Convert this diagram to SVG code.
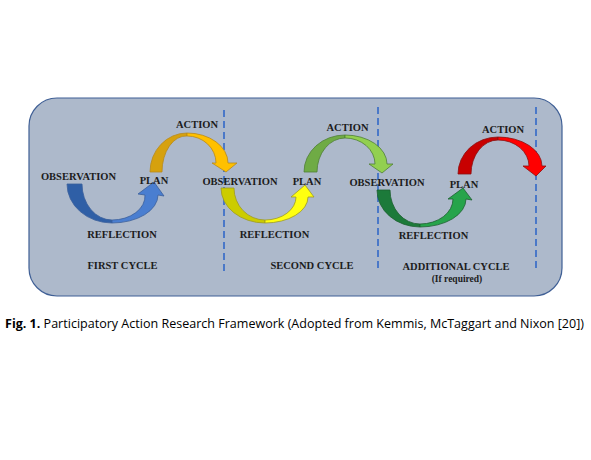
<svg xmlns="http://www.w3.org/2000/svg" width="591" height="460" viewBox="0 0 591 460">
<style>
.lbl{font-family:"Liberation Serif","Times New Roman",serif;font-weight:bold;font-size:10.5px;fill:#1c1c1c;text-anchor:middle}
.small{font-size:9.5px}
.dash{stroke:#4a78c8;stroke-width:2;stroke-dasharray:7 4;fill:none}
.edge{stroke-width:0.8;stroke-linejoin:round}
</style>
<rect width="591" height="460" fill="#ffffff"/>
<g id="frame">
<rect x="29" y="98" width="533" height="198" rx="28" ry="28" fill="#adb9cb" stroke="#3f5f95" stroke-width="1.2"/>
</g>
<g id="dividers">
<line class="dash" x1="224" y1="110" x2="224" y2="272"/>
<line class="dash" x1="378" y1="107" x2="378" y2="272"/>
<line class="dash" x1="536" y1="107" x2="536" y2="272"/>
</g>
<g id="connectors">
<!-- cycle 1 lower blue -->
<g class="edge" stroke="#3b5f9c">
<path d="M67,184 A45,39 0 0 0 112,223 L112,220 A30,36 0 0 1 82,184 Z" fill="#2f5fa6"/>
<path d="M112,223 A46,28 0 0 0 158,195 L164,196 L154,182 L138,194 L145,195 A33,24 0 0 1 112,220 Z" fill="#4a7ed0"/>
</g>
<!-- cycle 1 upper orange -->
<g class="edge" stroke="#b7891a">
<path d="M150,172 A37,39 0 0 1 187,133 L187,136 A24,36 0 0 0 162,172 Z" fill="#d6a10e"/>
<path d="M187,133 A41,30 0 0 1 228,163 L237,163 L226,172 L212,163 L216,163 A29,27 0 0 0 187,136 Z" fill="#ffc000"/>
</g>
<!-- cycle 2 lower yellow -->
<g class="edge" stroke="#9e9a22">
<path d="M221,188 A44,35 0 0 0 265,223 L265,220 A31,32 0 0 1 234,188 Z" fill="#cccc00"/>
<path d="M265,223 A43,26 0 0 0 308,197 L314,197 L305,185 L291,197 L296,197 A31,23 0 0 1 265,220 Z" fill="#ffff10"/>
</g>
<!-- cycle 2 upper green -->
<g class="edge" stroke="#4f7f36">
<path d="M304,172 A41,37 0 0 1 345,135 L345,138 A28,34 0 0 0 317,172 Z" fill="#6fab45"/>
<path d="M345,135 A42,29 0 0 1 387,164 L393,164 L382,173 L369,164 L375,164 A30,26 0 0 0 345,138 Z" fill="#92d050"/>
</g>
<!-- cycle 3 lower green -->
<g class="edge" stroke="#1d5f30">
<path d="M377,190 A43,37 0 0 0 420,227 L420,224 A30,34 0 0 1 390,190 Z" fill="#1c7a3a"/>
<path d="M420,227 A46,28 0 0 0 466,199 L472,200 L463,188 L448,199 L453,199 A33,25 0 0 1 420,224 Z" fill="#27a44b"/>
</g>
<!-- cycle 3 upper red -->
<g class="edge" stroke="#8a1010">
<path d="M458,174 A40,37 0 0 1 498,137 L498,140 A27,34 0 0 0 471,174 Z" fill="#c80000"/>
<path d="M498,137 A44,29 0 0 1 542,166 L546,166 L536,176 L523,166 L529,166 A31,26 0 0 0 498,140 Z" fill="#ff0000"/>
</g>
</g>
<g id="cycle1">
<text class="lbl" x="78.5" y="180">OBSERVATION</text>
<text class="lbl" x="154" y="184">PLAN</text>
<text class="lbl" x="197" y="128">ACTION</text>
<text class="lbl" x="122" y="238">REFLECTION</text>
<text class="lbl" x="122.5" y="269">FIRST CYCLE</text>
</g>
<g id="cycle2">
<text class="lbl" x="240" y="185">OBSERVATION</text>
<text class="lbl" x="307" y="185">PLAN</text>
<text class="lbl" x="347.5" y="131">ACTION</text>
<text class="lbl" x="274.5" y="238">REFLECTION</text>
<text class="lbl" x="312" y="269">SECOND CYCLE</text>
</g>
<g id="cycle3">
<text class="lbl" x="387" y="186">OBSERVATION</text>
<text class="lbl" x="464" y="188">PLAN</text>
<text class="lbl" x="503" y="133">ACTION</text>
<text class="lbl" x="433.5" y="239">REFLECTION</text>
<text class="lbl" x="456" y="270">ADDITIONAL CYCLE</text>
<text class="lbl small" x="457" y="282">(If required)</text>
</g>
<g id="caption">
<text x="5" y="328" font-family="'Open Sans','Noto Sans',sans-serif" font-size="12.5" fill="#000" textLength="579" lengthAdjust="spacingAndGlyphs"><tspan font-weight="bold">Fig. 1.</tspan> Participatory Action Research Framework (Adopted from Kemmis, McTaggart and Nixon [20])</text>
</g>
</svg>
